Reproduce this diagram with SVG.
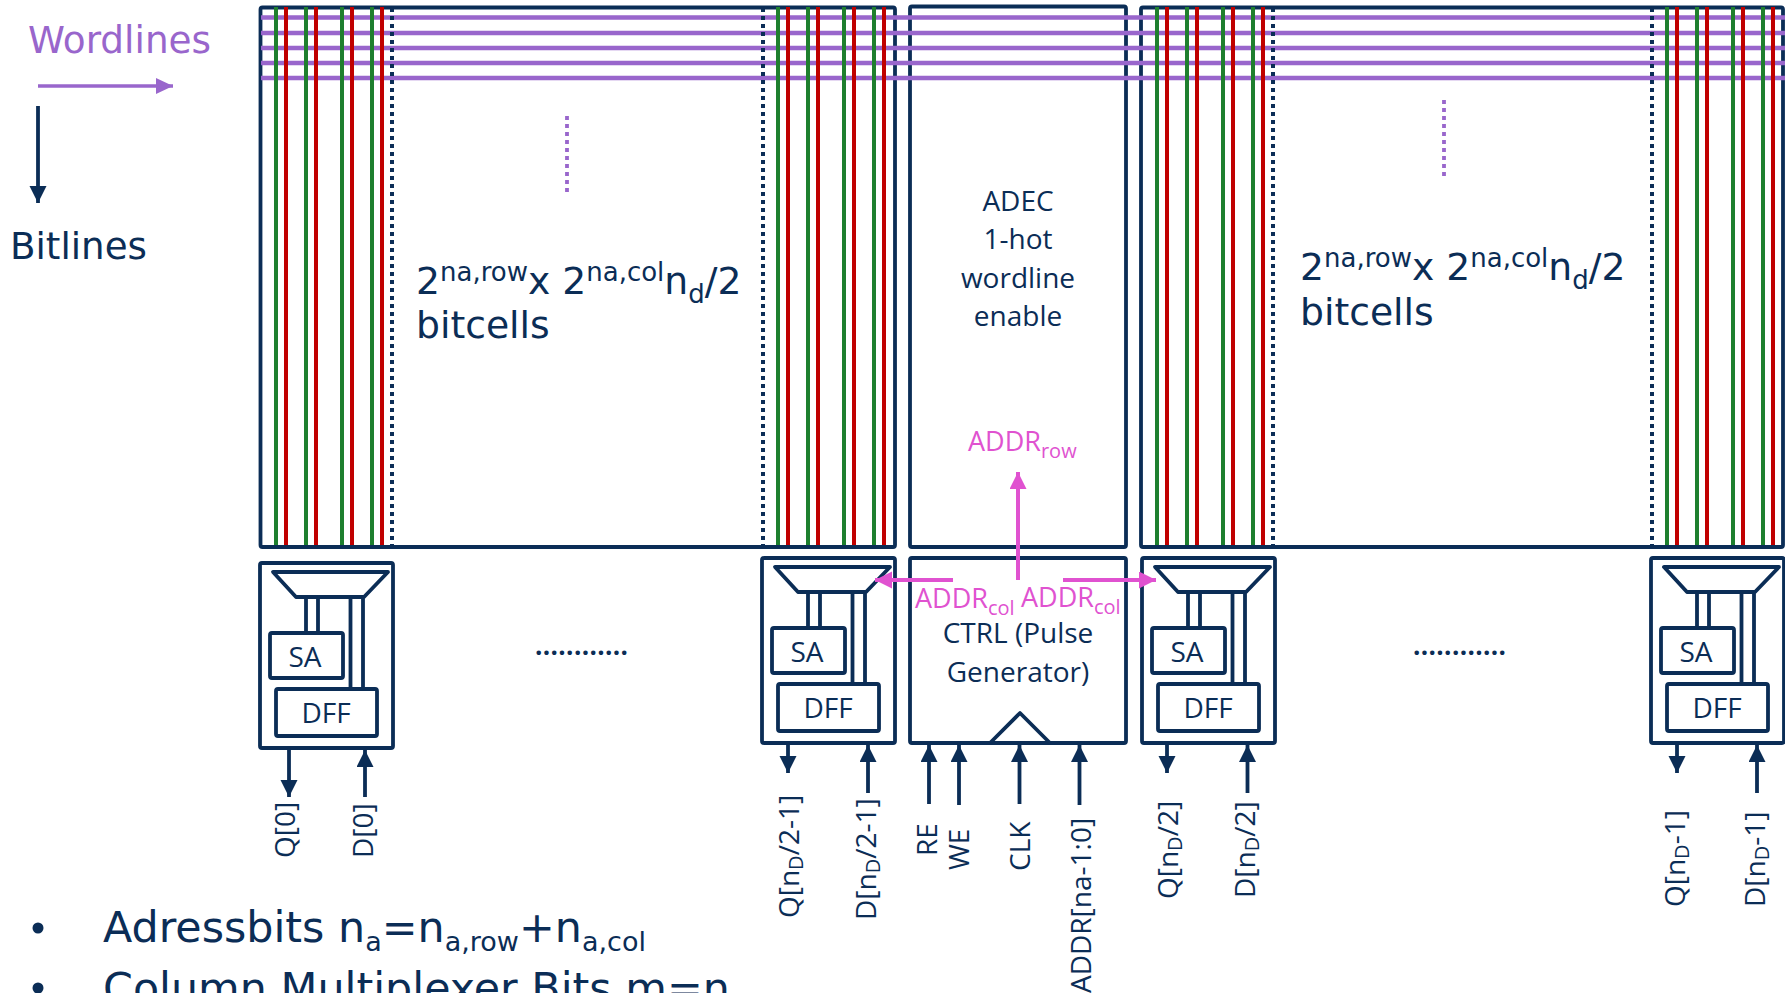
<svg xmlns="http://www.w3.org/2000/svg" width="1785" height="993" viewBox="0 0 1785 993">
<style>
.b{fill:none;stroke:#0B2D56;stroke-width:3.8;stroke-linejoin:round}
.wl{stroke:#9966CC;stroke-width:4.500;fill:none}
.g{stroke:#1E7F2E;stroke-width:4;fill:none}
.r{stroke:#C00000;stroke-width:4;fill:none}
.dot{stroke:#0B2D56;stroke-width:4;stroke-dasharray:4 4;fill:none}
.pd{stroke:#9966CC;stroke-width:3.8;stroke-dasharray:4 4;fill:none}
.a{stroke:#0B2D56;stroke-width:3.8;fill:none;marker-end:url(#an)}
.p{stroke:#E052D0;stroke-width:4;fill:none;marker-end:url(#ap)}
.pu{stroke:#9966CC;stroke-width:3.600;fill:none;marker-end:url(#au)}
text{font-family:"Open Sans","Liberation Sans",sans-serif;fill:#0B2D56}
.m{font-size:28px;text-anchor:middle}
.v{font-family:"DejaVu Sans","Liberation Sans",sans-serif}
.l{font-size:37.700px}
.s{font-size:28px}
.pk{fill:#E052D0;font-size:27px}
</style>
<defs>
<marker id="an" markerUnits="userSpaceOnUse" markerWidth="20" markerHeight="20" refX="17" refY="8.500" orient="auto"><path d="M0 0L17 8.500L0 17z" fill="#0B2D56"/></marker>
<marker id="ap" markerUnits="userSpaceOnUse" markerWidth="20" markerHeight="20" refX="17" refY="8.500" orient="auto"><path d="M0 0L17 8.500L0 17z" fill="#E052D0"/></marker>
<marker id="au" markerUnits="userSpaceOnUse" markerWidth="20" markerHeight="20" refX="17" refY="8" orient="auto"><path d="M0 0L17 8L0 16z" fill="#9966CC"/></marker>
</defs>
<g id="array-left"><rect class="b" x="260.5" y="7.5" width="634.5" height="539.5" rx="2"/></g>
<g id="adec"><rect class="b" x="910" y="6.5" width="216" height="540.5" rx="2"/>
<text class="m" x="1018" y="211">ADEC</text><text class="m" x="1018" y="249">1-hot</text><text class="m" x="1018" y="288">wordline</text><text class="m" x="1018" y="326">enable</text></g>
<g id="array-right"><rect class="b" x="1141" y="7.5" width="642" height="539.5" rx="2"/></g>
<g id="wordlines">
<path class="wl" d="M261 17.500H1785M261 33H1785M261 48H1785M261 63H1785M261 78H1785"/>
</g>
<g id="bitlines">
<path class="g" d="M276 7V545M306 7V545M342 7V545M372 7V545M778 7V545M808 7V545M844 7V545M874 7V545M1157 7V545M1187 7V545M1223 7V545M1253 7V545M1667 7V545M1697 7V545M1733 7V545M1763 7V545"/>
<path class="r" d="M286 7V545M316 7V545M352 7V545M382 7V545M788 7V545M818 7V545M854 7V545M884 7V545M1167 7V545M1197 7V545M1233 7V545M1263 7V545M1677 7V545M1707 7V545M1743 7V545M1773 7V545"/>
<path class="dot" d="M392 8V546M763 8V546M1273 8V546M1652 8V546"/>
</g>
<g id="dots"><path class="pd" d="M567 116V192M1444 100V177"/></g>
<g id="cells-left"><text class="v l" x="416" y="294">2<tspan font-size="26" dy="-13">na,row</tspan><tspan dy="13">x 2</tspan><tspan font-size="26" dy="-13">na,col</tspan><tspan dy="13">n</tspan><tspan font-size="26" dy="9">d</tspan><tspan dy="-9">/2</tspan></text><text class="v l" x="416" y="338">bitcells</text></g>
<g id="cells-right"><text class="v l" x="1300" y="280">2<tspan font-size="26" dy="-13">na,row</tspan><tspan dy="13">x 2</tspan><tspan font-size="26" dy="-13">na,col</tspan><tspan dy="13">n</tspan><tspan font-size="26" dy="9">d</tspan><tspan dy="-9">/2</tspan></text><text class="v l" x="1300" y="325">bitcells</text></g>
<g id="legend">
<text class="v" x="28" y="53" font-size="37.400" style="fill:#9966CC">Wordlines</text>
<text class="v" x="10" y="259" font-size="37.200">Bitlines</text>
</g>
<g id="mux0" transform="translate(0,0)"><rect class="b" x="260" y="563" width="133" height="185" rx="2"/><path class="b" d="M273 572H388L364 597H296zM306 597V633M318 597V633M350.500 597V689M363 597V689"/><rect class="b" x="270" y="633" width="73" height="45" rx="2"/><rect class="b" x="276" y="689" width="101" height="47" rx="2"/><text class="m" x="305" y="667">SA</text><text class="m" x="326" y="723">DFF</text></g>
<g id="mux1" transform="translate(502,-5)"><rect class="b" x="260" y="563" width="133" height="185" rx="2"/><path class="b" d="M273 572H388L364 597H296zM306 597V633M318 597V633M350.500 597V689M363 597V689"/><rect class="b" x="270" y="633" width="73" height="45" rx="2"/><rect class="b" x="276" y="689" width="101" height="47" rx="2"/><text class="m" x="305" y="667">SA</text><text class="m" x="326" y="723">DFF</text></g>
<g id="mux2" transform="translate(882,-5)"><rect class="b" x="260" y="563" width="133" height="185" rx="2"/><path class="b" d="M273 572H388L364 597H296zM306 597V633M318 597V633M350.500 597V689M363 597V689"/><rect class="b" x="270" y="633" width="73" height="45" rx="2"/><rect class="b" x="276" y="689" width="101" height="47" rx="2"/><text class="m" x="305" y="667">SA</text><text class="m" x="326" y="723">DFF</text></g>
<g id="mux3" transform="translate(1391,-5)"><rect class="b" x="260" y="563" width="133" height="185" rx="2"/><path class="b" d="M273 572H388L364 597H296zM306 597V633M318 597V633M350.500 597V689M363 597V689"/><rect class="b" x="270" y="633" width="73" height="45" rx="2"/><rect class="b" x="276" y="689" width="101" height="47" rx="2"/><text class="m" x="305" y="667">SA</text><text class="m" x="326" y="723">DFF</text></g>
<g id="ctrl"><rect class="b" x="910" y="558" width="216" height="185" rx="2"/><path class="b" d="M990 743L1020 713L1050 743"/>
<text class="m" x="1018" y="643">CTRL (Pulse</text><text class="m" x="1018" y="682">Generator)</text></g>
<g id="ellipsis">
<text x="535" y="655" font-size="26" font-weight="700" textLength="93" lengthAdjust="spacing">............</text>
<text x="1413" y="655" font-size="26" font-weight="700" textLength="93" lengthAdjust="spacing">............</text>
</g>
<g id="connectors">
<path class="pu" d="M38 86H173"/>
<path class="a" d="M38 106V203"/>
<path class="a" d="M289 748V797"/><path class="a" d="M365 797V750"/>
<path class="a" d="M788 743V773"/><path class="a" d="M868 793V745"/>
<path class="a" d="M929 804V745"/><path class="a" d="M959 805V745"/><path class="a" d="M1019.500 804V745"/><path class="a" d="M1079.500 805V745"/>
<path class="a" d="M1167 743V773"/><path class="a" d="M1247.500 793V745"/>
<path class="a" d="M1677 743V773"/><path class="a" d="M1757 793V745"/>
<path class="p" d="M1018 580V472"/><path class="p" d="M953 580H875"/><path class="p" d="M1063 580H1156"/>
</g>
<g id="addr-labels">
<text class="pk" x="968" y="451">ADDR<tspan font-size="20" dy="7">row</tspan></text>
<text class="pk" x="915" y="608">ADDR<tspan font-size="20" dy="7">col</tspan></text>
<text class="pk" x="1021" y="607">ADDR<tspan font-size="20" dy="7">col</tspan></text>
</g>
<g id="io-labels">
<text class="s" transform="translate(295,858) rotate(-90)">Q[0]</text>
<text class="s" transform="translate(373,858) rotate(-90)">D[0]</text>
<text class="s" transform="translate(799,918) rotate(-90)">Q[n<tspan font-size="20" dy="4">D</tspan><tspan dy="-4">/2-1]</tspan></text>
<text class="s" transform="translate(876,920) rotate(-90)">D[n<tspan font-size="20" dy="4">D</tspan><tspan dy="-4">/2-1]</tspan></text>
<text class="s" transform="translate(937,856) rotate(-90)">RE</text>
<text class="s" transform="translate(969,870) rotate(-90)">WE</text>
<text class="s" transform="translate(1030,871) rotate(-90)">CLK</text>
<text class="s" transform="translate(1091,993) rotate(-90)">ADDR[na-1:0]</text>
<text class="s" transform="translate(1178,899) rotate(-90)">Q[n<tspan font-size="20" dy="4">D</tspan><tspan dy="-4">/2]</tspan></text>
<text class="s" transform="translate(1255,898) rotate(-90)">D[n<tspan font-size="20" dy="4">D</tspan><tspan dy="-4">/2]</tspan></text>
<text class="s" transform="translate(1685,907) rotate(-90)">Q[n<tspan font-size="20" dy="4">D</tspan><tspan dy="-4">-1]</tspan></text>
<text class="s" transform="translate(1765,907) rotate(-90)">D[n<tspan font-size="20" dy="4">D</tspan><tspan dy="-4">-1]</tspan></text>
</g>
<g id="notes">
<circle cx="38" cy="928" r="5.500" fill="#0B2D56"/>
<text class="v" x="103" y="942" font-size="42.800">Adressbits n<tspan font-size="27" dy="9">a</tspan><tspan dy="-9">=n</tspan><tspan font-size="27" dy="9">a,row</tspan><tspan dy="-9">+n</tspan><tspan font-size="27" dy="9">a,col</tspan></text>
<circle cx="38" cy="988" r="5.500" fill="#0B2D56"/>
<text class="v" x="103" y="1003" font-size="42.800">Column Multiplexer Bits m=n</text>
</g>
</svg>
